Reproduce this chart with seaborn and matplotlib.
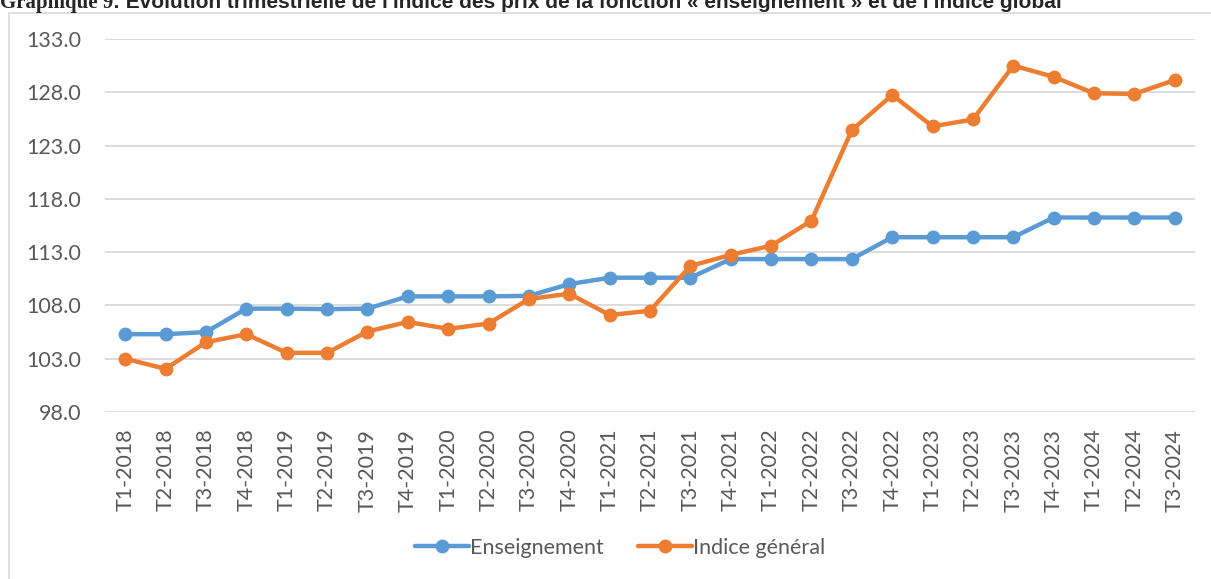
import pandas as pd
import matplotlib
matplotlib.use("Agg")
import matplotlib.pyplot as plt
import seaborn as sns
from matplotlib.patches import Rectangle
from matplotlib.lines import Line2D

# Quarterly price index values
quarters = ["T1-2018", "T2-2018", "T3-2018", "T4-2018",
            "T1-2019", "T2-2019", "T3-2019", "T4-2019",
            "T1-2020", "T2-2020", "T3-2020", "T4-2020",
            "T1-2021", "T2-2021", "T3-2021", "T4-2021",
            "T1-2022", "T2-2022", "T3-2022", "T4-2022",
            "T1-2023", "T2-2023", "T3-2023", "T4-2023",
            "T1-2024", "T2-2024", "T3-2024"]
enseignement = [105.3, 105.3, 105.5, 107.7, 107.7, 107.65, 107.7, 108.85,
                108.85, 108.85, 108.9, 110.0, 110.6, 110.6, 110.6, 112.35,
                112.35, 112.35, 112.35, 114.4, 114.4, 114.4, 114.4, 116.25,
                116.25, 116.25, 116.25]
indice_general = [103.0, 102.05, 104.55, 105.3, 103.55, 103.55, 105.55, 106.45,
                  105.8, 106.3, 108.6, 109.1, 107.1, 107.5, 111.7, 112.75,
                  113.6, 115.95, 124.45, 127.75, 124.8, 125.45, 130.5, 129.45,
                  127.9, 127.85, 129.15]
yticks = [98, 103, 108, 113, 118, 123, 128, 133]
series_names = ["Enseignement", "Indice général"]

df = pd.DataFrame({"pos": range(len(quarters)),
                   series_names[0]: enseignement,
                   series_names[1]: indice_general})
long_df = df.melt(id_vars="pos", var_name="serie", value_name="indice")

sns.set_style("white")
plt.rcParams["font.family"] = ["Lato", "DejaVu Sans"]

W, H = 1211, 579
fig = plt.figure(figsize=(W / 100, H / 100), dpi=100)
ax = fig.add_axes([105 / W, 1 - 412 / H, (1195 - 105) / W, (412 - 39) / H])

palette = {"Enseignement": "#5B9BD5", "Indice général": "#ED7D31"}
sns.lineplot(data=long_df, x="pos", y="indice", hue="serie", palette=palette,
             marker="o", markersize=10, markeredgewidth=0, linewidth=3.2,
             ax=ax, legend=False)

ax.set_xlim(-0.5, len(quarters) - 0.5)
ax.set_ylim(98, 133)
ax.set_yticks(yticks)
ax.set_yticklabels([f"{v:.1f}" for v in yticks])
ax.set_xticks(range(len(quarters)))
ax.set_xticklabels(quarters, rotation=90)
ax.tick_params(axis="y", length=0, pad=17, labelsize=15.5, labelcolor="#595959")
ax.tick_params(axis="x", length=0, pad=12, labelsize=15.5, labelcolor="#595959")
ax.set_xlabel("")
ax.set_ylabel("")
ax.yaxis.grid(True, color="#D9D9D9", linewidth=1.3)
ax.xaxis.grid(False)
for s in ax.spines.values():
    s.set_visible(False)

# Legend
handles = [Line2D([], [], color=palette[n], marker="o", markersize=10,
                  markeredgewidth=0, linewidth=3.2) for n in series_names]
fig.legend(handles, series_names, loc="center", bbox_to_anchor=(620 / W, 1 - 548 / H),
           ncol=2, frameon=False, fontsize=15.5, handlelength=2.5, handletextpad=0.05,
           columnspacing=1.6, labelcolor="#595959")

# Chart frame
fig.patches.append(Rectangle((9 / W, -0.05), 1.2, 1.05 - 13 / H, transform=fig.transFigure,
                             fill=False, edgecolor="#D9D9D9", linewidth=1.2))

# Title, partly cut off at the top as in the source
t1 = fig.text(0.0, 1 - 8 / H, "Graphique 9", family="Liberation Serif",
              fontweight="bold", fontsize=15, va="baseline", ha="left")
fig.canvas.draw()
bb = t1.get_window_extent()
fig.text(bb.x1 / W, 1 - 8 / H,
         ": Évolution trimestrielle de l'indice des prix de la fonction « enseignement » et de l'indice global",
         family="Liberation Sans", fontweight="bold", fontsize=15, va="baseline", ha="left")

fig.savefig("out.png", dpi=100)
